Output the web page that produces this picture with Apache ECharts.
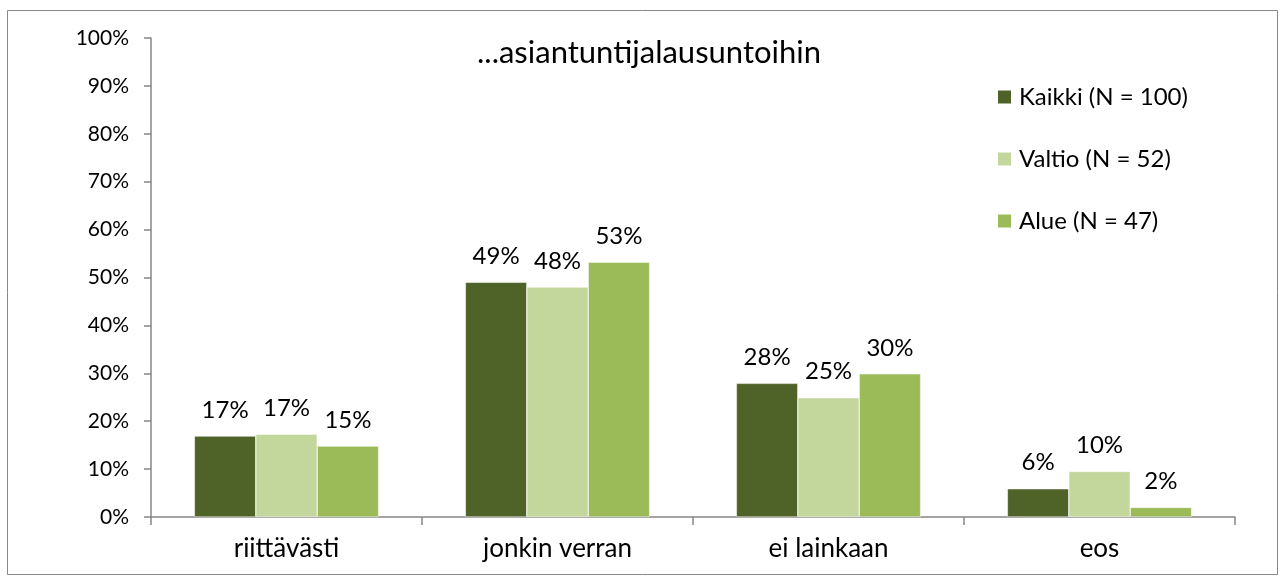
<!DOCTYPE html>
<html><head><meta charset="utf-8">
<script src="https://cdn.jsdelivr.net/npm/echarts@6/dist/echarts.min.js"></script>
<style>html,body{margin:0;padding:0;background:#fff}#c{width:1285px;height:581px}</style>
</head><body><div id="c"></div>
<script>
const categories = ['riittävästi', 'jonkin verran', 'ei lainkaan', 'eos'];
const seriesNames = ['Kaikki (N = 100)', 'Valtio (N = 52)', 'Alue (N = 47)'];
const kaikki = [16.9, 49.0, 27.9, 5.9];
const valtio = [17.3, 48.0, 24.9, 9.5];
const alue = [14.8, 53.2, 29.9, 2.0];
const colors = ['#4F6228', '#C3D69B', '#9BBB59'];
const titleText = '...asiantuntijalausuntoihin';
const font = 'Lato, "Open Sans", sans-serif';

const chart = echarts.init(document.getElementById('c'), null, {renderer: 'canvas'});
const mk = (name, data, color) => ({
  name, type: 'bar', data,
  barGap: '0%', barCategoryGap: '32%',
  itemStyle: {color, borderColor: '#fff', borderWidth: 0.5},
  label: {show: true, position: 'top', distance: 14, fontFamily: font, fontSize: 24, color: '#000',
    formatter: p => Math.round(p.value) + '%'}
});
chart.setOption({
  animation: false,
  title: {text: titleText, left: 472, top: 32, textStyle: {fontFamily: font, fontSize: 31, fontWeight: 'normal', color: '#000'}},
  graphic: [{type: 'rect', shape: {x: 7.5, y: 10.5, width: 1270, height: 564}, style: {fill: 'none', stroke: '#888', lineWidth: 1}, silent: true}],
  legend: {orient: 'vertical', left: 996, top: 85, itemGap: 38, itemWidth: 15, itemHeight: 15, icon: 'rect', padding: 0,
    textStyle: {fontFamily: font, fontSize: 24, lineHeight: 20, height: 20, color: '#000', padding: [0, 0, 0, 2]}, data: seriesNames},
  grid: {left: 151, right: 50, top: 38, bottom: 64},
  xAxis: {type: 'category', data: categories,
    axisLine: {lineStyle: {color: '#868686', width: 1.5}},
    axisTick: {show: true, length: 8, lineStyle: {color: '#868686', width: 1.5}},
    axisLabel: {fontFamily: font, fontSize: 26, color: '#000', margin: 19}},
  yAxis: {type: 'value', min: 0, max: 100, interval: 10,
    axisLine: {show: true, lineStyle: {color: '#868686', width: 1.5}},
    axisTick: {show: true, length: 7, lineStyle: {color: '#868686', width: 1.5}},
    splitLine: {show: false},
    axisLabel: {fontFamily: font, fontSize: 21, color: '#000', margin: 22, formatter: '{value}%'}},
  series: [mk(seriesNames[0], kaikki, colors[0]), mk(seriesNames[1], valtio, colors[1]), mk(seriesNames[2], alue, colors[2])]
});
</script></body></html>
